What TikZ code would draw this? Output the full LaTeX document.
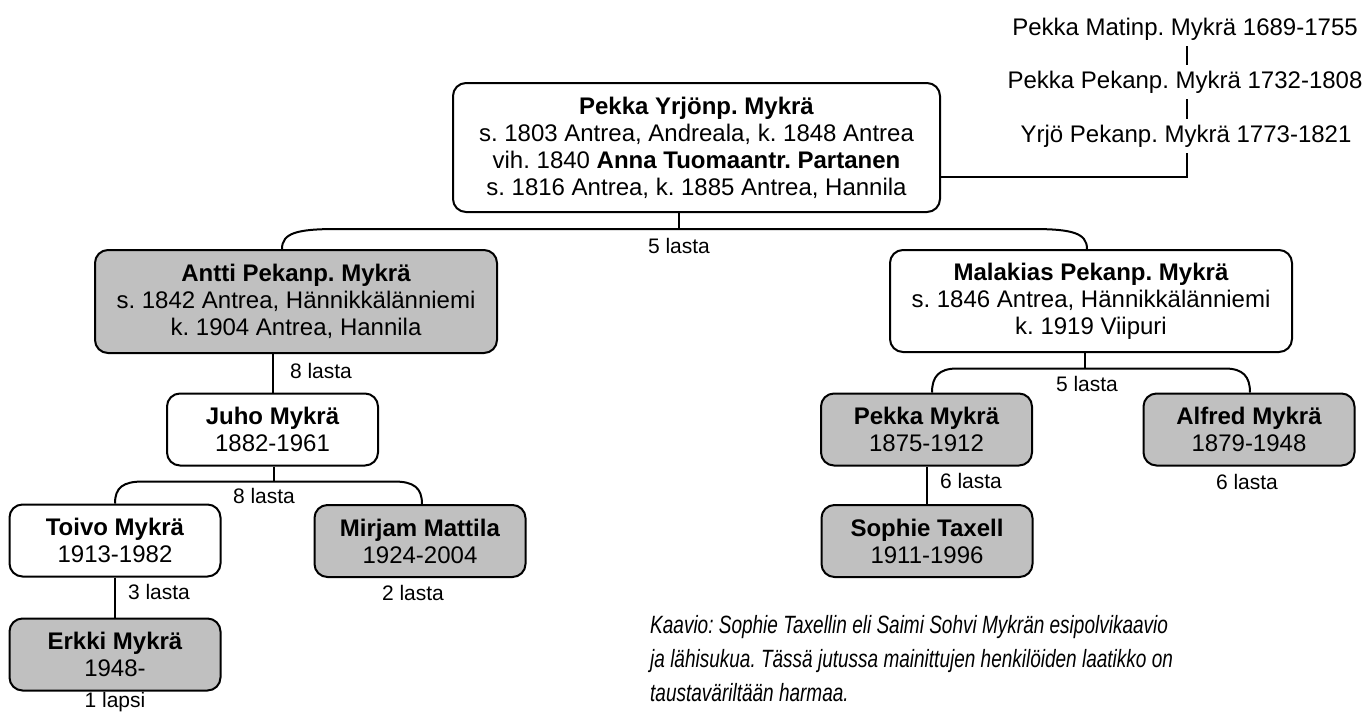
\documentclass[tikz,border=0pt]{standalone}
\usepackage{fontspec}
\setmainfont{Liberation Sans}
\newfontfamily\capfont[FakeStretch=0.76]{Liberation Sans}
\definecolor{boxgray}{RGB}{192,192,192}
\frenchspacing
\begin{document}
\begin{tikzpicture}[x=1pt,y=-1pt,
  person/.style={draw=black, line width=2pt, rounded corners=13pt, align=center,
    inner sep=0pt, font=\fontsize{24}{27}\selectfont},
  small/.style={person, minimum width=211pt, minimum height=72pt},
  marked/.style={fill=boxgray},
  plain/.style={fill=white},
  conn/.style={line width=2pt},
  thin/.style={line width=1.4pt},
  count/.style={inner sep=0pt, anchor=base, font=\fontsize{21}{24}\selectfont},
  anc/.style={inner xsep=0pt, inner ysep=6pt, text height=17pt, text depth=5pt,
    font=\fontsize{24}{27}\selectfont}
]
\useasboundingbox (0,0) rectangle (1368,713);

% ancestors
\node[anc] (anc1) at (1185,29) {Pekka Matinp. Mykrä 1689-1755};
\node[anc] (anc2) at (1185,82) {Pekka Pekanp. Mykrä 1732-1808};
\node[anc] (anc3) at (1186,136) {Yrjö Pekanp. Mykrä 1773-1821};
\coordinate (ak) at (1187,177);

% persons
\node[person, plain, minimum width=487pt, minimum height=129pt] (top) at (696.5,147.5)
  {\textbf{Pekka Yrjönp. Mykrä}\\s. 1803 Antrea, Andreala, k. 1848 Antrea\\vih. 1840 \textbf{Anna Tuomaantr. Partanen}\\s. 1816 Antrea, k. 1885 Antrea, Hannila};
\node[person, marked, minimum width=402pt, minimum height=103pt] (antti) at (296,301.5)
  {\textbf{Antti Pekanp. Mykrä}\\s. 1842 Antrea, Hännikkälänniemi\\k. 1904 Antrea, Hannila};
\node[person, plain, minimum width=402pt, minimum height=102pt] (malakias) at (1091,301)
  {\textbf{Malakias Pekanp. Mykrä}\\s. 1846 Antrea, Hännikkälänniemi\\k. 1919 Viipuri};
\node[small, plain] (juho) at (272.5,429.5) {\textbf{Juho Mykrä}\\1882-1961};
\node[small, plain] (toivo) at (115,540.5) {\textbf{Toivo Mykrä}\\1913-1982};
\node[small, marked] (mirjam) at (420,541) {\textbf{Mirjam Mattila}\\1924-2004};
\node[small, marked] (erkki) at (115,654.5) {\textbf{Erkki Mykrä}\\1948-};
\node[small, marked] (pekka) at (926.5,429.5) {\textbf{Pekka Mykrä}\\1875-1912};
\node[small, marked] (sophie) at (927,541) {\textbf{Sophie Taxell}\\1911-1996};
\node[small, marked] (alfred) at (1249,429.5) {\textbf{Alfred Mykrä}\\1879-1948};

% ancestor connectors
\draw[thin] (anc1.south -| ak) -- (anc2.north -| ak);
\draw[thin] (anc2.south -| ak) -- (anc3.north -| ak);
\draw[conn] (anc3.south -| ak) -- (ak) -- (ak -| top.east);

% top family
\coordinate (jt) at (679,230);
\draw[conn] (top.south -| jt) -- (jt);
\draw[conn] ([xshift=-14pt]antti.north) .. controls +(0,-16) and +(-40,0) .. ++(55,-20)
  -- ++(695,0) .. controls +(40,0) and +(0,-16) .. ([xshift=-4pt]malakias.north);
\node[count] (c1) at (679,253) {5 lasta};

% Antti -> Juho
\draw[conn] (antti.south -| juho.north) -- (juho.north);
\node[count] (c2) at (321,378) {8 lasta};

% Juho family
\coordinate (jj) at (274,482);
\draw[conn] (juho.south -| jj) -- (jj);
\draw[conn] (toivo.north) .. controls +(0,-16) and +(-20,0) .. ++(28,-22)
  -- ++(251,0) .. controls +(20,0) and +(0,-16) .. ([xshift=2pt]mirjam.north);
\node[count] (c3) at (264,503) {8 lasta};

% Toivo -> Erkki
\draw[conn] (toivo.south) -- (erkki.north);
\node[count] (c4) at (159,599) {3 lasta};
\node[count] (c5) at (413,600) {2 lasta};
\node[count] (c6) at (115,707) {1 lapsi};

% Malakias family
\coordinate (jm) at (1085,369);
\draw[conn] (malakias.south -| jm) -- (jm);
\draw[conn] ([xshift=5.5pt]pekka.north) .. controls +(0,-16) and +(-18,0) .. ++(25,-24)
  -- ++(268,0) .. controls +(18,0) and +(0,-16) .. ([xshift=1pt]alfred.north);
\node[count] (c7) at (1087,391) {5 lasta};

% Pekka -> Sophie
\draw[conn] (pekka.south -| sophie.north) -- (sophie.north);
\node[count] (c8) at (971,488) {6 lasta};
\node[count] (c9) at (1247,489) {6 lasta};

% caption
\node[anchor=north west, inner sep=0pt, align=left,
  font=\capfont\itshape\fontsize{25}{34}\selectfont] (caption) at (650,615)
  {Kaavio: Sophie Taxellin eli Saimi Sohvi Mykrän esipolvikaavio\\ja lähisukua. Tässä jutussa mainittujen henkilöiden laatikko on\\taustaväriltään harmaa.};
\end{tikzpicture}
\end{document}
